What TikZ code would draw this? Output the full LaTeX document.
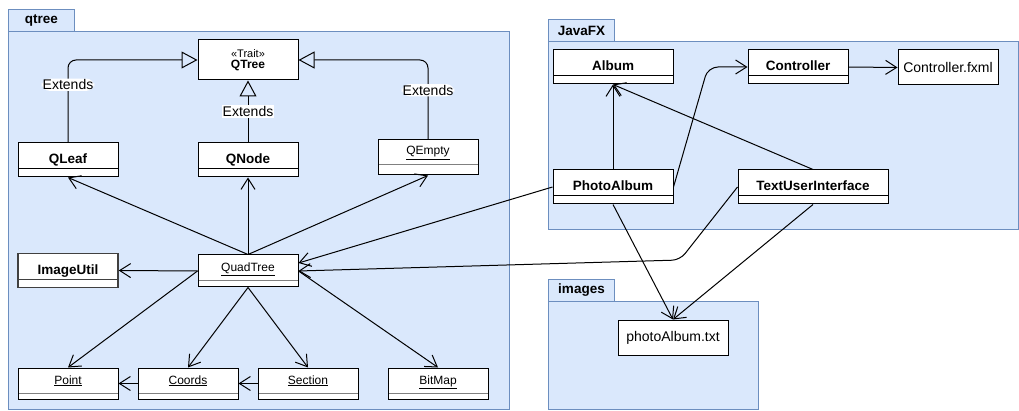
\documentclass[tikz,border=0pt]{standalone}
\usepackage{fontspec}
\setmainfont{Liberation Sans}
\usetikzlibrary{arrows.meta, positioning, calc}
\definecolor{pkgfill}{HTML}{DAE8FC}
\definecolor{pkgline}{HTML}{6C8EBF}

\begin{document}
\begin{tikzpicture}[
      x=1pt, y=-1pt, line width=1pt,
      pkg/.style={draw=pkgline, fill=pkgfill},
      pkgtab/.style={pkg, anchor=south west, minimum width=66pt, minimum height=22pt,
                     inner sep=0pt, font=\fontsize{13.5}{15}\selectfont\bfseries},
      cls/.style={draw, fill=white, minimum width=100pt, inner sep=0pt,
                  text height=21pt, text depth=13pt,
                  font=\fontsize{13.5}{15}\selectfont\bfseries,
                  path picture={\draw ([yshift=8pt]path picture bounding box.south west)
                                 -- ([yshift=8pt]path picture bounding box.south east);}},
      ucls/.style={draw, fill=white, minimum width=100pt, inner sep=0pt,
                   text height=16.5pt, text depth=15.5pt,
                   font=\fontsize{12}{14}\selectfont,
                   path picture={\draw[gray] ([yshift=6pt]path picture bounding box.south west)
                                  -- ([yshift=6pt]path picture bounding box.south east);}},
      filebox/.style={draw, fill=white, inner sep=0pt, minimum height=35pt,
                      font=\fontsize{14}{16}\selectfont},
      lbl/.style={fill=white, inner sep=1pt, font=\fontsize{14}{16}\selectfont},
      ext/.style={-{Triangle[open, length=16pt, width=17pt]}},
      dep/.style={-{Straight Barb[length=11pt, width=14pt]}}
    ]
    \useasboundingbox (0,0) rectangle (1019,411);

    % packages
    \draw[pkg] (8,32) rectangle (509,409.5);
    \node[pkgtab] (qtreetab) at (8,32) {qtree};
    \draw[pkg] (548,42) rectangle (1018.5,230);
    \node[pkgtab] (javafxtab) at (548,42) {JavaFX};
    \draw[pkg] (548,302) rectangle (758,409.5);
    \node[pkgtab] (imagestab) at (548,302) {images};

    % qtree classes
    \node[draw, fill=white, minimum width=100pt, minimum height=40pt, align=center,
          inner sep=0pt] (qtree) at (248,60)
      {{\fontsize{11}{12}\selectfont «Trait»}\\[-1pt]
       {\fontsize{12}{14}\selectfont\bfseries QTree}};
    \node[cls] (qleaf) at (68,160) {QLeaf};
    \node[cls] (qnode) at (248,160) {QNode};
    \node[ucls, text height=15pt, text depth=20pt, path picture={\draw[gray]
          ([yshift=10pt]path picture bounding box.south west)
          -- ([yshift=10pt]path picture bounding box.south east);}]
          (qempty) at (428,157.5) {\underline{QEmpty}};
    \node[ucls] (quadtree) at (248,271) {\underline{QuadTree}};
    \node[cls, draw=black!75, line width=1.5pt] (imageutil) at (68,270.5) {ImageUtil};
    \node[ucls, text height=16pt, text depth=15pt] (point) at (68,383.5) {\underline{Point}};
    \node[ucls, text height=16pt, text depth=15pt] (coords) at (188,383.5) {\underline{Coords}};
    \node[ucls, text height=16pt, text depth=15pt] (section) at (308,383.5) {\underline{Section}};
    \node[ucls, text height=16pt, text depth=15pt] (bitmap) at (438,383.5) {\underline{BitMap}};

    % JavaFX classes
    \node[cls, minimum width=120pt] (album) at (613,67) {Album};
    \node[cls] (controller) at (798,67) {Controller};
    \node[filebox, minimum width=100pt] (fxml) at (948,67.5) {Controller.fxml};
    \node[cls, minimum width=120pt] (photoalbum) at (613,187) {PhotoAlbum};
    \node[cls, minimum width=150pt] (tui) at (813,187) {TextUserInterface};

    % images
    \node[filebox, minimum width=110pt] (txt) at (673,337.5) {photoAlbum.txt};

    % inheritance
    \draw[ext, rounded corners=8pt] (qleaf.north) |- (qtree.west)
      node[lbl, pos=0.35] {Extends};
    \draw[ext] (qnode.north) -- (qtree.south)
      node[lbl, midway] {Extends};
    \draw[ext, rounded corners=8pt] (qempty.north) |- (qtree.east)
      node[lbl, pos=0.31] {Extends};

    % dependencies
    \draw[dep] (quadtree.north) -- (qleaf.south);
    \draw[dep] (quadtree.north) -- (qnode.south);
    \draw[dep] (quadtree.north) -- (qempty.south);
    \draw[dep] (quadtree.west) -- (imageutil.east);
    \draw[dep] (quadtree.west) -- (point.north);
    \draw[dep] (quadtree.south) -- (coords.north);
    \draw[dep] (quadtree.south) -- (section.north);
    \draw[dep] (quadtree.east) -- (bitmap.north);
    \draw[dep] (coords.west) -- (point.east);
    \draw[dep] (section.west) -- (coords.east);

    \draw[dep] (photoalbum.west) -- ([yshift=8pt]quadtree.east);
    \coordinate (tuibend) at (680,260);
    \draw[dep, rounded corners=8pt] (tui.west) -- (tuibend) -- (quadtree.east);

    \draw[dep] (photoalbum.north) -- (album.south);
    \draw[dep] (tui.north) -- (album.south);
    \coordinate (ctrlbend) at (708,67);
    \draw[dep, rounded corners=10pt] (photoalbum.east) -- (ctrlbend) -- (controller.west);
    \draw[dep] (controller.east) -- (fxml.west);
    \draw[dep] (photoalbum.south) -- (txt.north);
    \draw[dep] (tui.south) -- (txt.north);
  \end{tikzpicture}
\end{document}
